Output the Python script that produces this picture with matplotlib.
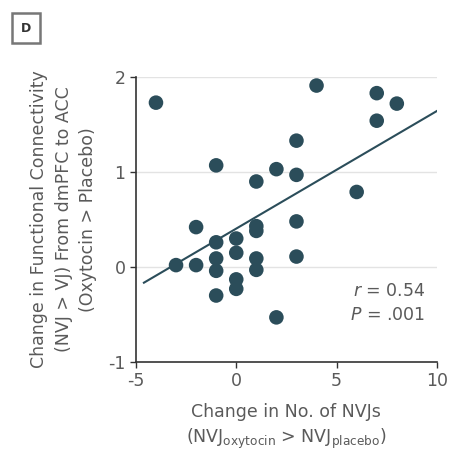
import matplotlib.pyplot as plt
import numpy as np

plt.rcParams['axes.unicode_minus'] = False

# change in number of NVJs (oxytocin > placebo)
nvj_change = [-4, 4, 7, 8, 7, 3, -1, 2, 3, 1, 6, 3, -2, 1, 1, -1, 0, 0, -1, 1, 3,
              -3, -2, -1, 1, 0, 0, -1, 2]
# change in functional connectivity dmPFC -> ACC
fc_change = [1.73, 1.91, 1.83, 1.72, 1.54, 1.33, 1.07, 1.03, 0.97, 0.90, 0.79, 0.48,
             0.42, 0.43, 0.38, 0.26, 0.30, 0.15, 0.09, 0.09, 0.11,
             0.02, 0.02, -0.04, -0.03, -0.13, -0.23, -0.30, -0.53]

x_ticks = [-5, 0, 5, 10]
y_ticks = [-1, 0, 1, 2]
fit_range = [-4.6, 10.1]

dot_color = '#2b4d5a'
text_color = '#5a5a5a'

fig = plt.figure(figsize=(4.5, 4.54), dpi=100)
ax = fig.add_axes([0.302, 0.2026, 0.669, 0.6278])

for yv in [0, 1, 2]:
    ax.axhline(yv, color='#e3e3e3', linewidth=1.0, zorder=0)

ax.scatter(nvj_change, fc_change, s=110, color=dot_color, edgecolors='none', zorder=3)

slope, intercept = np.polyfit(nvj_change, fc_change, 1)
lx = np.array(fit_range)
ax.plot(lx, slope * lx + intercept, color=dot_color, linewidth=1.5, zorder=2)

ax.set_xlim(-5, 10)
ax.set_ylim(-1, 2)
ax.set_xticks(x_ticks)
ax.set_yticks(y_ticks)
ax.spines['top'].set_visible(False)
ax.spines['right'].set_visible(False)
for s in ['left', 'bottom']:
    ax.spines[s].set_color('#333333')
    ax.spines[s].set_linewidth(1.2)
ax.tick_params(axis='both', colors='#333333', labelcolor=text_color, labelsize=12.5,
               length=4, width=1.0)

ax.set_xlabel('Change in No. of NVJs\n(NVJ$_{\\mathregular{oxytocin}}$ > NVJ$_{\\mathregular{placebo}}$)',
              fontsize=12.5, color=text_color, labelpad=9, linespacing=1.35)
ax.set_ylabel('Change in Functional Connectivity\n(NVJ > VJ) From dmPFC to ACC\n(Oxytocin > Placebo)',
              fontsize=12.5, color=text_color, labelpad=8, linespacing=1.45)

ax.text(0.96, 0.25, '$r$ = 0.54', transform=ax.transAxes, ha='right', va='center',
        fontsize=12.5, color=text_color)
ax.text(0.96, 0.165, '$P$ = .001', transform=ax.transAxes, ha='right', va='center',
        fontsize=12.5, color=text_color)

fig.text(0.058, 0.938, 'D', fontsize=9, fontweight='bold', color='#333333',
         ha='center', va='center',
         bbox=dict(boxstyle='square,pad=0.7', facecolor='white', edgecolor='#777777',
                   linewidth=1.8))

fig.savefig('out.png', dpi=100)
